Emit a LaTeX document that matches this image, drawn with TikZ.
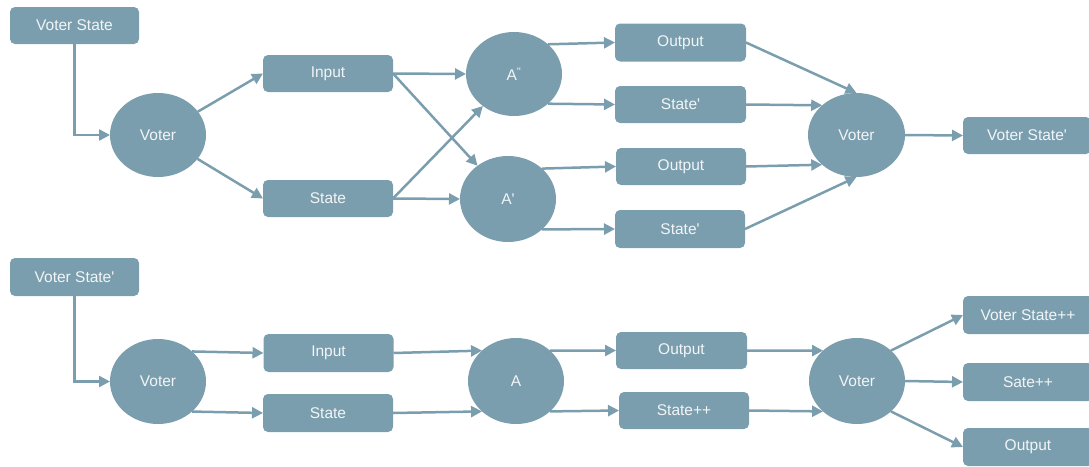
\documentclass[tikz,border=0pt]{standalone}
\usepackage{fontspec}
\setmainfont{Liberation Sans}
\usetikzlibrary{shapes.geometric,arrows.meta}
\definecolor{nodecol}{RGB}{123,158,174}
\definecolor{txtcol}{RGB}{242,245,247}
\begin{document}
\begin{tikzpicture}[x=1pt,y=-1pt,
  box/.style={rectangle,rounded corners=5pt,fill=nodecol,text=txtcol,minimum width=130pt,minimum height=37pt,inner sep=0pt,outer sep=0pt,font=\fontsize{15.5}{17}\selectfont},
  oval/.style={ellipse,fill=nodecol,text=txtcol,minimum width=96pt,minimum height=85pt,inner sep=0pt,outer sep=0pt,font=\fontsize{15.5}{17}\selectfont},
  conn/.style={draw=nodecol,line width=2.5pt,-{Triangle[length=11pt,width=11pt]}}]
\useasboundingbox (0,0) rectangle (1089,466);
\clip (0,0) rectangle (1089,466);
% top row
\node[box,minimum width=129pt] (vs1) at (74.5,25.5) {Voter State};
\node[oval,minimum height=84pt] (v1) at (158,135) {Voter};
\node[box] (in1) at (328,73.5) {Input};
\node[box] (st1) at (328,198.5) {State};
\node[oval,minimum height=84pt] (a2) at (514,74) {A\textsuperscript{\textquotesingle\textquotesingle}};
\node[oval,minimum height=86pt] (a1) at (508,199) {A\textquotesingle};
\node[box,minimum width=131pt,minimum height=38pt] (o1) at (680.5,42.5) {Output};
\node[box,minimum width=131pt] (s1) at (680.5,104.5) {State\textquotesingle};
\node[box] (o2) at (681,166.5) {Output};
\node[box,minimum height=38pt] (s2) at (680,229) {State\textquotesingle};
\node[oval,minimum width=97pt,minimum height=84pt] (v2) at (856.5,135) {Voter};
\node[box,minimum width=128pt] (vs2) at (1027,135.5) {Voter State\textquotesingle};
% bottom row
\node[box,minimum width=129pt,minimum height=38pt] (vs3) at (74.5,277) {Voter State\textquotesingle};
\node[oval] (v3) at (158,381.5) {Voter};
\node[box,minimum height=38pt] (in3) at (328.5,353) {Input};
\node[box,minimum height=38pt] (st3) at (328,413) {State};
\node[oval,minimum height=86pt] (a3) at (516,381) {A};
\node[box,minimum width=131pt] (o3) at (681.5,350.5) {Output};
\node[box] (s3) at (684,410.5) {State++};
\node[oval,minimum height=86pt] (v4) at (857,381) {Voter};
\node[box,minimum height=38pt] (r1) at (1028,315) {Voter State++};
\node[box,minimum height=38pt] (r2) at (1028,382) {Sate++};
\node[box,minimum height=38pt] (r3) at (1028,447) {Output};
% top connectors
\draw[conn] (vs1.south) |- (v1.west);
\draw[conn] (v1) -- (in1.west);
\draw[conn] (v1) -- (st1.west);
\draw[conn] (in1.east) -- (a2.west);
\draw[conn] (in1.east) -- (a1);
\draw[conn] (st1.east) -- (a2);
\draw[conn] (st1.east) -- (a1.west);
\draw[conn] (a2.north east) -- (o1.west);
\draw[conn] (a2.south east) -- (s1.west);
\draw[conn] (a1.north east) -- (o2.west);
\draw[conn] (a1.south east) -- (s2.west);
\draw[conn] (o1.east) -- (v2.north);
\draw[conn] (s1.east) -- (v2.north west);
\draw[conn] (o2.east) -- (v2.south west);
\draw[conn] (s2.east) -- (v2.south);
\draw[conn] (v2.east) -- (vs2.west);
% bottom connectors
\draw[conn] (vs3.south) |- (v3.west);
\draw[conn] (v3.north east) -- (in3.west);
\draw[conn] (v3.south east) -- (st3.west);
\draw[conn] (in3.east) -- (a3.north west);
\draw[conn] (st3.east) -- (a3.south west);
\draw[conn] (a3.north east) -- (o3.west);
\draw[conn] (a3.south east) -- (s3.west);
\draw[conn] (o3.east) -- (v4.north west);
\draw[conn] (s3.east) -- (v4.south west);
\draw[conn] (v4.north east) -- (r1.west);
\draw[conn] (v4.east) -- (r2.west);
\draw[conn] (v4.south east) -- (r3.west);
\end{tikzpicture}
\end{document}
